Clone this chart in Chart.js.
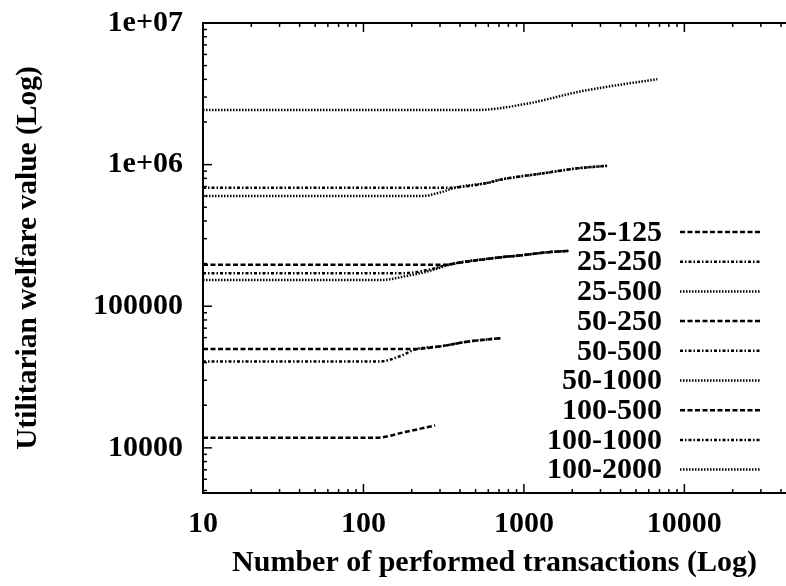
<!DOCTYPE html>
<html lang="en">
<head>
<meta charset="UTF-8">
<title>Utilitarian welfare value</title>
<script src="https://cdn.jsdelivr.net/npm/chart.js@4.4.0/dist/chart.umd.min.js"></script>
<style>
    html, body { margin: 0; padding: 0; background: #fff; }
    #wrap { width: 786px; height: 586px; }
</style>
</head>
<body>
<div id="wrap"><canvas id="welfareChart" width="786" height="586"></canvas></div>

<script>
// transactions (x) and welfare (y) for each agents-tasks setting
const seriesNames = ['25-125', '25-250', '25-500', '50-250', '50-500', '50-1000', '100-500', '100-1000', '100-2000'];

const tx25_125 = [10, 120, 185, 280];
const wf25_125 = [11800, 11800, 13000, 14400];

const tx25_250 = [10, 126, 170, 213, 297, 455, 730];
const wf25_250 = [40700, 40700, 44500, 49800, 52000, 56400, 59600];

const tx25_500 = [10, 126, 193, 260, 310, 357, 700, 930, 1430, 1900];
const wf25_500 = [153000, 153000, 165000, 178000, 190000, 199000, 221000, 228000, 241000, 246000];

const tx50_250 = [10, 190, 213, 297, 455, 730];
const wf50_250 = [49800, 49800, 49900, 52000, 56400, 59600];

const tx50_500 = [10, 175, 260, 310, 357, 700, 930, 1430, 1900];
const wf50_500 = [171000, 171000, 182000, 192000, 199000, 221000, 228000, 241000, 246000];

const tx50_1000 = [10, 230, 300, 378, 600, 700, 1240, 2200, 3300];
const wf50_1000 = [600000, 600000, 635000, 690000, 745000, 780000, 860000, 944000, 980000];

const tx100_500 = [10, 328, 357, 700, 930, 1430, 1900];
const wf100_500 = [196000, 196000, 199000, 221000, 228000, 241000, 246000];

const tx100_1000 = [10, 330, 378, 600, 700, 1240, 2200, 3300];
const wf100_1000 = [687000, 687000, 690000, 745000, 780000, 860000, 944000, 980000];

const tx100_2000 = [10, 505, 1075, 2200, 3890, 6790];
const wf100_2000 = [2430000, 2430000, 2710000, 3270000, 3650000, 4010000];

const allTx = [tx25_125, tx25_250, tx25_500, tx50_250, tx50_500, tx50_1000, tx100_500, tx100_1000, tx100_2000];
const allWf = [wf25_125, wf25_250, wf25_500, wf50_250, wf50_500, wf50_1000, wf100_500, wf100_1000, wf100_2000];

const xTickLabels = [10, 100, 1000, 10000];
const yTickLabels = ['10000', '100000', '1e+06', '1e+07'];

const FONT = 'Liberation Serif, Times New Roman, serif';
const DASH = [5, 2.5];
const DASHDOT = [3, 2, 1.5, 2];
const DOT = [1.5, 1.5];
const patterns = [DASH, DASHDOT, DOT];

const datasets = seriesNames.map((name, i) => ({
    label: name,
    data: allTx[i].map((t, j) => ({x: t, y: allWf[i][j]})),
    borderColor: '#000',
    borderWidth: 2.5,
    borderDash: patterns[i % 3],
    pointRadius: 0,
    fill: false,
    cubicInterpolationMode: 'monotone'
}));

// border on left/top/bottom plus inward log ticks
const frameTicks = {
    id: 'frameTicks',
    afterDatasetsDraw(chart) {
        const {ctx, chartArea: a, scales: {x, y}} = chart;
        ctx.save();
        ctx.strokeStyle = '#000';
        ctx.setLineDash([]);
        ctx.lineWidth = 2;
        ctx.beginPath();
        ctx.moveTo(a.right, a.top);
        ctx.lineTo(a.left, a.top);
        ctx.lineTo(a.left, a.bottom);
        ctx.lineTo(a.right, a.bottom);
        ctx.stroke();

        ctx.lineWidth = 1.5;
        const seg = (x1, y1, x2, y2) => {
            ctx.beginPath(); ctx.moveTo(x1, y1); ctx.lineTo(x2, y2); ctx.stroke();
        };
        const steps = (min, max) => {
            const out = [];
            for (let e = Math.floor(Math.log10(min)); e <= Math.ceil(Math.log10(max)); e++) {
                for (let m = 1; m < 10; m++) {
                    const v = m * Math.pow(10, e);
                    if (v >= min && v <= max) out.push([v, m === 1]);
                }
            }
            return out;
        };
        steps(x.min, x.max).forEach(([v, major]) => {
            const px = x.getPixelForValue(v);
            const len = major ? 9 : 4;
            seg(px, a.bottom, px, a.bottom - len);
            seg(px, a.top, px, a.top + len);
        });
        steps(y.min, y.max).forEach(([v, major]) => {
            const py = y.getPixelForValue(v);
            const len = major ? 9 : 4;
            seg(a.left, py, a.left + len, py);
        });
        ctx.restore();
    }
};

// key drawn inside the plot, text right-aligned before the line sample
const keyInside = {
    id: 'keyInside',
    afterDraw(chart) {
        const ctx = chart.ctx;
        ctx.save();
        ctx.font = 'bold 30px ' + FONT;
        ctx.textAlign = 'right';
        ctx.textBaseline = 'middle';
        ctx.fillStyle = '#000';
        chart.data.datasets.forEach((ds, i) => {
            const yy = 232 + i * 29.7;
            ctx.fillText(ds.label, 662, yy + 1);
            ctx.strokeStyle = ds.borderColor;
            ctx.lineWidth = ds.borderWidth;
            ctx.setLineDash(ds.borderDash);
            ctx.beginPath();
            ctx.moveTo(680, yy);
            ctx.lineTo(760, yy);
            ctx.stroke();
        });
        ctx.restore();
    }
};

const isPow10 = v => Math.abs(Math.log10(v) - Math.round(Math.log10(v))) < 1e-9;

new Chart(document.getElementById('welfareChart'), {
    type: 'line',
    data: {datasets},
    options: {
        responsive: false,
        animation: false,
        layout: {padding: {top: 23, right: 0, left: 0, bottom: 0}},
        plugins: {legend: {display: false}, tooltip: {enabled: false}},
        scales: {
            x: {
                type: 'logarithmic',
                min: 10,
                max: 43000,
                grid: {display: false},
                border: {display: false},
                ticks: {
                    autoSkip: false,
                    maxRotation: 0,
                    padding: 5,
                    color: '#000',
                    font: {family: FONT, size: 30, weight: 'bold'},
                    callback: v => xTickLabels.includes(v) ? String(v) : ''
                },
                title: {
                    display: true,
                    text: 'Number of performed transactions (Log)',
                    color: '#000',
                    font: {family: FONT, size: 30, weight: 'bold'},
                    padding: {top: 0, bottom: 5}
                },
                afterFit: s => {
                    s.height = 93;
                    s.paddingLeft = 0;
                    s.paddingRight = 0;
                }
            },
            y: {
                type: 'logarithmic',
                min: 4800,
                max: 1e7,
                grid: {display: false},
                border: {display: false},
                ticks: {
                    autoSkip: false,
                    padding: 12,
                    color: '#000',
                    font: {family: FONT, size: 30, weight: 'bold'},
                    callback: v => isPow10(v) ? yTickLabels[Math.round(Math.log10(v)) - 4] : ''
                },
                title: {
                    display: true,
                    text: 'Utilitarian welfare value (Log)',
                    color: '#000',
                    font: {family: FONT, size: 29.5, weight: 'bold'},
                    padding: {top: 11, bottom: 0}
                },
                afterFit: s => {
                    s.width = 203;
                    s.paddingTop = 0;
                    s.paddingBottom = 0;
                }
            }
        }
    },
    plugins: [frameTicks, keyInside]
});
</script>
</body>
</html>
